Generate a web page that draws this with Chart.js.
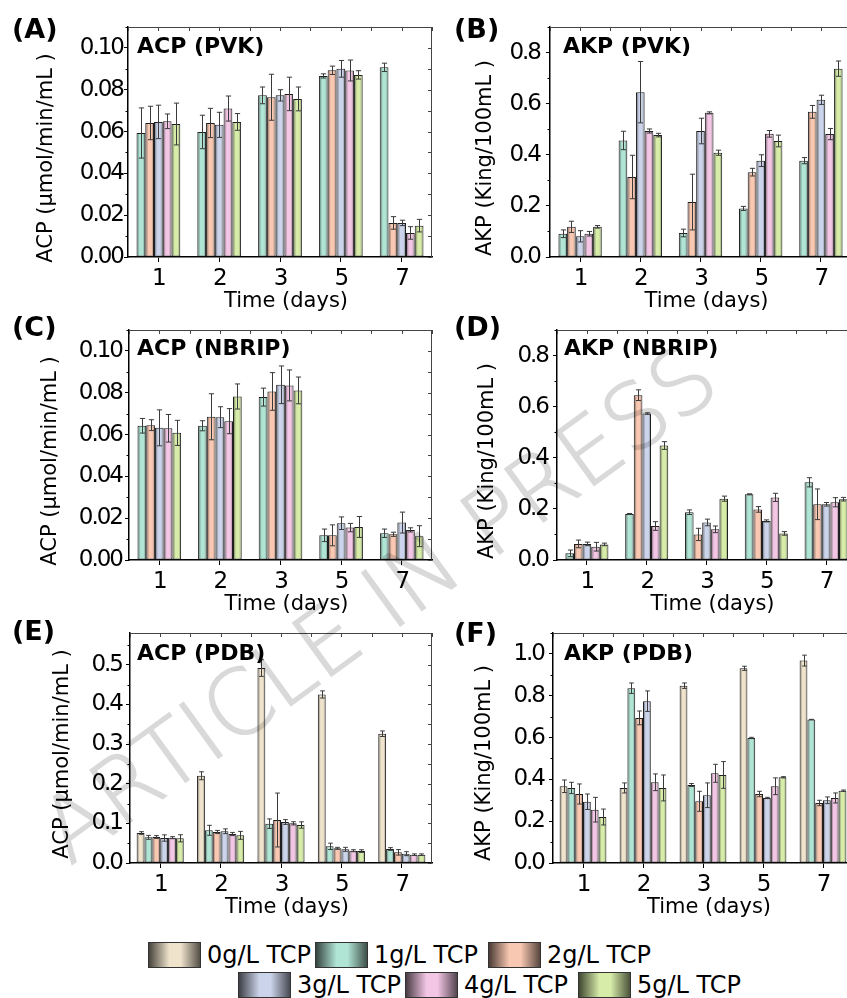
<!DOCTYPE html>
<html>
<head>
<meta charset="utf-8">
<script src="https://cdn.jsdelivr.net/npm/chart.js@4.4.1/dist/chart.umd.min.js"></script>
<style>
  html, body { margin: 0; padding: 0; background: #fff; overflow: hidden; }
  #page { position: relative; width: 847px; height: 998px; overflow: hidden; }
  #page canvas { position: absolute; }
  .lg { position: absolute; display: flex; align-items: center; height: 26px;
        font-family: "DejaVu Sans", sans-serif; font-size: 24px;
        color: #000; white-space: nowrap; }
  .sw { width: 53px; height: 26px; box-sizing: border-box; border: 1px solid #333; margin-right: 6px; }
  #wm { position: absolute; left: 0; top: 0; pointer-events: none; }
</style>
</head>
<body>
<div id="page">
  <canvas id="cA" width="440" height="320" style="left:0;top:0"></canvas>
  <canvas id="cB" width="440" height="320" style="left:420px;top:0"></canvas>
  <canvas id="cC" width="440" height="320" style="left:0;top:303px"></canvas>
  <canvas id="cD" width="440" height="320" style="left:420px;top:303px"></canvas>
  <canvas id="cE" width="440" height="320" style="left:0;top:606px"></canvas>
  <canvas id="cF" width="440" height="320" style="left:420px;top:606px"></canvas>
  <div id="legend"></div>
  <svg id="wm" width="847" height="998">
    <g opacity="0.15">
      <text x="70" y="866" transform="rotate(-36 70 866)" font-family="DejaVu Sans" font-weight="200"
            font-size="90" fill="#000" stroke="#000" stroke-width="1.6">ARTICLE IN PRESS</text>
    </g>
  </svg>
</div>
<script>
// sampling days (x categories)
const days = ['1', '2', '3', '5', '7'];
const seriesNames = ['0g/L TCP', '1g/L TCP', '2g/L TCP', '3g/L TCP', '4g/L TCP', '5g/L TCP'];
const seriesColors = ['#efe3cc', '#b0e4d4', '#f9c8b2', '#cbd4ea', '#f2c6e4', '#d6eca8'];

// y tick values
const acpTicks = [0, 0.02, 0.04, 0.06, 0.08, 0.10];
const akpTicks = [0, 0.2, 0.4, 0.6, 0.8];
const acpPdbTicks = [0, 0.1, 0.2, 0.3, 0.4, 0.5];
const akpPdbTicks = [0, 0.2, 0.4, 0.6, 0.8, 1.0];

// (A) ACP PVK, series 1..5 g/L
const acpPVK = [
  [0.0593, 0.0598, 0.0773, 0.0866, 0.0907],
  [0.0641, 0.0641, 0.0764, 0.0893, 0.0163],
  [0.0646, 0.0632, 0.0773, 0.0900, 0.0163],
  [0.0649, 0.0710, 0.0780, 0.0892, 0.0115],
  [0.0636, 0.0646, 0.0756, 0.0871, 0.0150]
];
const acpPVKErr = [
  [0.012, 0.008, 0.004, 0.001, 0.002],
  [0.008, 0.007, 0.011, 0.002, 0.003],
  [0.008, 0.006, 0.0027, 0.004, 0.0013],
  [0.0035, 0.006, 0.008, 0.005, 0.003],
  [0.010, 0.004, 0.0057, 0.002, 0.003]
];

// (B) AKP PVK
const akpPVK = [
  [0.091, 0.456, 0.094, 0.190, 0.377],
  [0.118, 0.313, 0.215, 0.332, 0.568],
  [0.081, 0.645, 0.493, 0.377, 0.615],
  [0.091, 0.493, 0.564, 0.482, 0.481],
  [0.118, 0.477, 0.408, 0.454, 0.737]
];
const akpPVKErr = [
  [0.015, 0.036, 0.015, 0.008, 0.012],
  [0.022, 0.085, 0.109, 0.015, 0.025],
  [0.022, 0.120, 0.050, 0.023, 0.018],
  [0.009, 0.008, 0.004, 0.013, 0.022],
  [0.005, 0.007, 0.010, 0.023, 0.030]
];

// (C) ACP NBRIP
const acpNBRIP = [
  [0.0642, 0.0642, 0.0779, 0.0118, 0.0128],
  [0.0645, 0.0685, 0.0806, 0.0118, 0.0123],
  [0.0632, 0.0683, 0.0838, 0.0176, 0.0179],
  [0.0630, 0.0664, 0.0835, 0.0155, 0.0144],
  [0.0608, 0.0782, 0.0811, 0.0158, 0.0114]
];
const acpNBRIPErr = [
  [0.0035, 0.0024, 0.0043, 0.003, 0.002],
  [0.0026, 0.011, 0.009, 0.005, 0.001],
  [0.0086, 0.005, 0.009, 0.003, 0.005],
  [0.0066, 0.006, 0.0074, 0.002, 0.001],
  [0.006, 0.006, 0.0064, 0.005, 0.005]
];

// (D) AKP NBRIP
const akpNBRIP = [
  [0.026, 0.180, 0.187, 0.257, 0.304],
  [0.063, 0.645, 0.100, 0.198, 0.218],
  [0.063, 0.573, 0.147, 0.153, 0.218],
  [0.052, 0.133, 0.120, 0.245, 0.226],
  [0.061, 0.448, 0.240, 0.104, 0.238]
];
const akpNBRIPErr = [
  [0.013, 0.002, 0.009, 0.002, 0.018],
  [0.015, 0.021, 0.024, 0.011, 0.060],
  [0.007, 0.003, 0.013, 0.004, 0.007],
  [0.017, 0.017, 0.013, 0.016, 0.018],
  [0.005, 0.015, 0.010, 0.007, 0.007]
];

// (E) ACP PDB, series 0..5 g/L
const acpPDB = [
  [0.0756, 0.220, 0.4916, 0.425, 0.326],
  [0.0647, 0.0824, 0.0992, 0.042, 0.0353],
  [0.0655, 0.0782, 0.1084, 0.037, 0.0269],
  [0.063, 0.080, 0.1034, 0.0345, 0.0235],
  [0.0639, 0.0731, 0.100, 0.031, 0.021],
  [0.0622, 0.0697, 0.0958, 0.030, 0.021]
];
const acpPDBErr = [
  [0.0034, 0.010, 0.021, 0.009, 0.007],
  [0.005, 0.0126, 0.012, 0.008, 0.0034],
  [0.0035, 0.004, 0.068, 0.0025, 0.007],
  [0.008, 0.006, 0.006, 0.005, 0.005],
  [0.0025, 0.004, 0.004, 0.0025, 0.002],
  [0.009, 0.010, 0.008, 0.0034, 0.002]
];

// (F) AKP PDB
const akpPDB = [
  [0.367, 0.359, 0.848, 0.931, 0.968],
  [0.359, 0.836, 0.373, 0.598, 0.686],
  [0.330, 0.694, 0.295, 0.330, 0.287],
  [0.293, 0.774, 0.324, 0.311, 0.300],
  [0.255, 0.386, 0.429, 0.367, 0.311],
  [0.220, 0.359, 0.421, 0.410, 0.346]
];
const akpPDBErr = [
  [0.030, 0.024, 0.013, 0.010, 0.026],
  [0.027, 0.025, 0.007, 0.003, 0.001],
  [0.048, 0.033, 0.048, 0.013, 0.013],
  [0.037, 0.049, 0.059, 0.003, 0.016],
  [0.059, 0.040, 0.043, 0.040, 0.024],
  [0.038, 0.062, 0.064, 0.003, 0.003]
];

const FONT = '"DejaVu Sans", sans-serif';
const acpTitle = 'ACP (\u03bcmol/min/mL )';
const akpTitle = 'AKP (King/100mL )';

const panels = [
  { id: 'cA', letter: '(A)', title: 'ACP (PVK)', yTitle: acpTitle, values: acpPVK, errors: acpPVKErr, first: 1,
    ticks: acpTicks, yMax: 0.11, minor: 0.01, dec: 2, yw: 128, rp: 8, tp: 1, yto: 81, yty: 158, lx: 12, ly: 38, tx: 137, ty: 53 },
  { id: 'cB', letter: '(B)', title: 'AKP (PVK)', yTitle: akpTitle, values: akpPVK, errors: akpPVKErr, first: 1,
    ticks: akpTicks, yMax: 0.9, minor: 0.1, dec: 1, yw: 130, rp: 9, tp: 6, yto: 64, yty: 158, lx: 34, ly: 38, tx: 143, ty: 53 },
  { id: 'cC', letter: '(C)', title: 'ACP (NBRIP)', yTitle: acpTitle, values: acpNBRIP, errors: acpNBRIPErr, first: 1,
    ticks: acpTicks, yMax: 0.11, minor: 0.01, dec: 2, yw: 129, rp: 8, tp: 3, yto: 78, yty: 158, lx: 12, ly: 33, tx: 137, ty: 52 },
  { id: 'cD', letter: '(D)', title: 'AKP (NBRIP)', yTitle: akpTitle, values: akpNBRIP, errors: akpNBRIPErr, first: 1,
    ticks: akpTicks, yMax: 0.9, minor: 0.1, dec: 1, yw: 137, rp: 4, tp: 5, yto: 69, yty: 158, lx: 34, ly: 33, tx: 144, ty: 52 },
  { id: 'cE', letter: '(E)', title: 'ACP (PDB)', yTitle: acpTitle, values: acpPDB, errors: acpPDBErr, first: 0,
    ticks: acpPdbTicks, yMax: 0.58, minor: 0.05, dec: 1, yw: 130, rp: 8, tp: 4, yto: 67, yty: 148, lx: 12, ly: 34, tx: 137, ty: 54 },
  { id: 'cF', letter: '(F)', title: 'AKP (PDB)', yTitle: akpTitle, values: akpPDB, errors: akpPDBErr, first: 0,
    ticks: akpPdbTicks, yMax: 1.1, minor: 0.1, dec: 1, yw: 133, rp: 7, tp: 5, yto: 68, yty: 157, lx: 34, ly: 36, tx: 144, ty: 54 }
];

function shade(hex, f) {
  const n = parseInt(hex.slice(1), 16);
  const r = Math.round(((n >> 16) & 255) * f), g = Math.round(((n >> 8) & 255) * f), b = Math.round((n & 255) * f);
  return `rgb(${r},${g},${b})`;
}

function makeDecor(p) {
  return {
    id: 'decor',
    beforeDraw(chart) {
      // tick labels in the original are narrow: tighten them
      chart.ctx.letterSpacing = '-2px';
    },
    beforeDatasetsDraw(chart) {
      const ctx = chart.ctx;
      chart.data.datasets.forEach((ds, i) => {
        chart.getDatasetMeta(i).data.forEach(el => {
          const g = ctx.createLinearGradient(el.x - el.width / 2, 0, el.x + el.width / 2, 0);
          g.addColorStop(0, shade(ds.baseColor, 0.45));
          g.addColorStop(0.35, ds.baseColor);
          g.addColorStop(0.7, ds.baseColor);
          g.addColorStop(1, shade(ds.baseColor, 0.6));
          el.options.backgroundColor = g;
        });
      });
    },
    afterDatasetsDraw(chart) {
      const ctx = chart.ctx, ys = chart.scales.y;
      ctx.save();
      ctx.strokeStyle = '#3a3a3a';
      ctx.lineWidth = 1;
      chart.data.datasets.forEach((ds, i) => {
        chart.getDatasetMeta(i).data.forEach((el, j) => {
          const v = ds.data[j], e = ds.errors[j];
          const yt = ys.getPixelForValue(v + e), yb = ys.getPixelForValue(v - e);
          const x = Math.round(el.x) + 0.5, c = el.width * 0.3;
          ctx.beginPath();
          ctx.moveTo(x, yt); ctx.lineTo(x, yb);
          ctx.moveTo(x - c, yt); ctx.lineTo(x + c, yt);
          ctx.moveTo(x - c, yb); ctx.lineTo(x + c, yb);
          ctx.stroke();
        });
      });
      ctx.restore();
    },
    afterDraw(chart) {
      const ctx = chart.ctx, ys = chart.scales.y;
      const { left, right, top, bottom } = chart.chartArea;
      ctx.save();
      ctx.letterSpacing = '0px';
      // frame on top and right with inward ticks
      ctx.strokeStyle = '#444';
      ctx.lineWidth = 1;
      ctx.beginPath();
      ctx.moveTo(left, top + 0.5); ctx.lineTo(right, top + 0.5);
      ctx.moveTo(right - 0.5, top); ctx.lineTo(right - 0.5, bottom);
      const step = (right - left) / days.length;
      for (let k = 0; k <= days.length * 2; k++) {
        const px = Math.round(left + k * step / 2) + 0.5;
        ctx.moveTo(px, top); ctx.lineTo(px, top + 4);
      }
      for (let v = 0; v <= p.yMax + 1e-9; v += p.minor) {
        const py = Math.round(ys.getPixelForValue(v)) + 0.5;
        ctx.moveTo(right, py); ctx.lineTo(right - 4, py);
      }
      ctx.stroke();
      // minor ticks on the left axis
      ctx.strokeStyle = '#000';
      ctx.beginPath();
      for (let v = 0; v <= p.yMax + 1e-9; v += p.minor) {
        if (p.ticks.some(t => Math.abs(t - v) < 1e-9)) continue;
        const py = Math.round(ys.getPixelForValue(v)) + 0.5;
        ctx.moveTo(left, py); ctx.lineTo(left - 2.5, py);
      }
      ctx.stroke();
      // texts
      ctx.fillStyle = '#000';
      ctx.textBaseline = 'alphabetic';
      ctx.textAlign = 'left';
      ctx.font = 'bold 27px ' + FONT;
      ctx.fillText(p.letter, p.lx, p.ly);
      ctx.font = 'bold 22px ' + FONT;
      ctx.fillText(p.title, p.tx, p.ty);
      ctx.textAlign = 'center';
      ctx.textBaseline = 'middle';
      ctx.font = '21px ' + FONT;
      ctx.fillText('Time (days)', (left + right) / 2 + 6, bottom + 45);
      ctx.translate(left - p.yto, p.yty);
      ctx.rotate(-Math.PI / 2);
      ctx.fillText(p.yTitle, 0, 0);
      ctx.restore();
    }
  };
}

panels.forEach(p => {
  const datasets = p.values.map((vals, k) => ({
    label: seriesNames[p.first + k],
    data: vals,
    errors: p.errors[k],
    baseColor: seriesColors[p.first + k],
    backgroundColor: () => seriesColors[p.first + k],
    borderColor: '#1e1e1e',
    borderWidth: 1,
    borderSkipped: false,
    categoryPercentage: p.values.length === 6 ? 0.78 : 0.72,
    barPercentage: 1.0
  }));
  new Chart(document.getElementById(p.id), {
    type: 'bar',
    data: { labels: days, datasets },
    options: {
      responsive: false,
      animation: false,
      layout: { padding: { top: 27, right: p.rp, left: 0, bottom: 0 } },
      plugins: { legend: { display: false }, tooltip: { enabled: false } },
      scales: {
        x: {
          grid: { display: true, drawOnChartArea: false, offset: false, tickLength: 5, color: '#000', lineWidth: 1 },
          border: { color: '#000', width: 1.5 },
          ticks: { color: '#000', font: { family: FONT, size: 23 }, padding: 3, maxRotation: 0, autoSkip: false },
          afterFit: s => { s.height = 63; }
        },
        y: {
          min: 0,
          max: p.yMax,
          grid: { display: true, drawOnChartArea: false, tickLength: 4, color: '#000', lineWidth: 1 },
          border: { color: '#000', width: 1.5 },
          ticks: { color: '#000', font: { family: FONT, size: 23 }, padding: p.tp, callback: v => v.toFixed(p.dec) },
          afterBuildTicks: s => { s.ticks = p.ticks.map(v => ({ value: v })); },
          afterFit: s => { s.width = p.yw; }
        }
      }
    },
    plugins: [makeDecor(p)]
  });
});

// legend
const legendPos = [[148, 942], [315, 942], [488, 942], [238, 972], [405, 972], [578, 972]];
const legend = document.getElementById('legend');
seriesNames.forEach((name, k) => {
  const c = seriesColors[k];
  const item = document.createElement('div');
  item.className = 'lg';
  item.style.left = legendPos[k][0] + 'px';
  item.style.top = legendPos[k][1] + 'px';
  const sw = document.createElement('div');
  sw.className = 'sw';
  sw.style.background = `linear-gradient(to right, ${shade(c, 0.3)} 0%, ${c} 40%, ${c} 62%, ${shade(c, 0.35)} 100%)`;
  const tx = document.createElement('span');
  tx.textContent = name;
  item.appendChild(sw);
  item.appendChild(tx);
  legend.appendChild(item);
});
</script>
</body>
</html>
